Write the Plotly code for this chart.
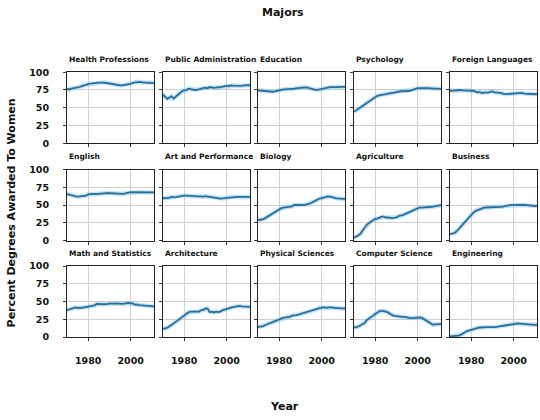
import plotly.graph_objects as go
from plotly.subplots import make_subplots

years = list(range(1970, 2012))

health_professions = [77.1, 75.5, 76.9, 77.4, 77.9, 78.9, 79.2, 80.5, 81.9, 82.3,
                      83.5, 84.1, 84.4, 84.6, 85.1, 85.3, 85.7, 85.5, 85.2, 84.6,
                      83.9, 83.5, 83.0, 82.4, 82.0, 81.5, 81.4, 81.9, 82.3, 83.5,
                      83.5, 85.1, 85.9, 86.6, 86.5, 86.0, 85.4, 85.2, 85.1, 85.3,
                      85.0, 84.8]
public_administration = [68.4, 65.5, 62.6, 64.3, 66.1, 63.0, 65.6, 69.3, 71.5, 73.3,
                         74.6, 74.7, 76.8, 76.1, 75.9, 75.0, 75.3, 76.4, 76.9, 77.6,
                         78.2, 77.4, 79.2, 78.5, 78.0, 78.4, 79.1, 78.6, 79.8, 80.8,
                         81.1, 80.3, 81.6, 81.1, 80.9, 81.5, 81.1, 80.8, 81.6, 81.7,
                         82.0, 81.7]
education = [74.5, 74.1, 73.6, 73.5, 73.3, 72.8, 72.2, 72.5, 73.2, 74.0,
             74.6, 75.0, 75.8, 75.9, 76.0, 75.9, 76.1, 76.8, 77.4, 78.0,
             78.1, 78.6, 78.8, 78.5, 77.4, 76.4, 75.7, 75.2, 75.1, 75.8,
             76.7, 77.5, 78.2, 78.6, 79.1, 79.1, 78.8, 78.7, 79.2, 79.4,
             79.6, 79.5]
psychology = [44.4, 46.2, 47.6, 50.4, 52.6, 54.5, 56.9, 59.0, 61.3, 63.3,
              65.1, 66.9, 67.5, 67.9, 68.2, 69.0, 69.0, 70.0, 70.8, 71.3,
              72.1, 72.8, 73.2, 73.2, 73.1, 73.0, 73.6, 74.6, 75.8, 76.5,
              77.5, 77.5, 77.7, 77.6, 77.8, 77.5, 77.4, 77.1, 77.2, 77.1,
              77.0, 76.7]
foreign_languages = [73.8, 73.9, 74.6, 74.9, 75.3, 75.0, 74.4, 74.3, 74.3, 74.2,
                     74.1, 73.9, 72.7, 71.8, 72.1, 70.8, 71.2, 71.1, 71.2, 72.3,
                     73.1, 71.7, 71.6, 71.2, 71.0, 70.0, 69.1, 69.3, 69.5, 70.0,
                     70.1, 70.9, 70.5, 70.6, 70.9, 69.9, 69.6, 69.2, 69.5, 69.3,
                     69.0, 69.0]
english = [65.6, 64.6, 63.7, 62.9, 62.4, 61.9, 62.1, 62.5, 63.2, 63.5,
           65.3, 65.8, 65.8, 65.6, 65.8, 65.8, 66.5, 66.9, 67.2, 67.3,
           67.1, 66.7, 66.4, 65.9, 65.7, 65.7, 65.8, 66.3, 66.6, 67.6,
           68.4, 68.4, 68.4, 68.8, 68.8, 68.6, 68.3, 67.9, 67.9, 67.9,
           67.9, 68.0]
art_and_performance = [59.7, 59.9, 60.4, 60.2, 61.9, 60.9, 61.3, 62.0, 62.5, 63.2,
                       63.4, 63.3, 63.1, 62.4, 62.1, 61.8, 62.1, 61.7, 61.7, 62.0,
                       62.6, 62.1, 61.2, 60.4, 59.9, 59.4, 59.6, 59.3, 59.5, 59.8,
                       60.7, 61.0, 61.4, 61.5, 61.7, 61.6, 61.5, 61.4, 60.8, 61.3,
                       61.2, 61.5]
biology = [29.1, 29.4, 29.8, 31.1, 33.0, 34.4, 36.1, 38.3, 40.1, 42.0,
           44.0, 45.8, 46.4, 47.0, 47.3, 48.2, 48.3, 50.2, 50.1, 50.6,
           50.7, 50.7, 50.5, 51.2, 51.9, 53.0, 54.6, 56.2, 58.2, 59.3,
           59.9, 60.7, 61.6, 62.2, 62.0, 61.5, 60.3, 59.4, 59.0, 58.7,
           59.0, 58.7]
agriculture = [4.2, 5.5, 7.4, 9.7, 14.1, 18.3, 22.3, 24.6, 27.1, 29.6,
               30.8, 31.1, 32.5, 33.8, 33.8, 32.6, 32.6, 31.8, 31.7, 32.0,
               32.7, 34.5, 35.0, 36.0, 37.3, 38.7, 40.2, 41.9, 42.9, 44.6,
               45.7, 46.9, 46.6, 47.2, 47.8, 47.4, 47.1, 47.6, 47.6, 48.7,
               48.7, 50.0]
business = [9.1, 9.5, 10.6, 12.8, 16.2, 19.7, 23.4, 27.2, 30.5, 33.6,
            36.8, 39.3, 41.7, 43.1, 44.6, 45.7, 46.5, 46.7, 46.7, 47.0,
            47.2, 47.2, 47.2, 47.3, 47.6, 48.0, 48.9, 49.1, 49.8, 50.5,
            50.4, 50.6, 50.0, 50.1, 50.2, 50.3, 49.8, 49.4, 49.0, 48.9,
            48.8, 48.9]
math_and_statistics = [38.0, 39.0, 40.2, 40.9, 41.8, 40.7, 41.5, 41.1, 41.6, 42.3,
                       42.8, 43.2, 44.4, 44.7, 46.7, 46.1, 46.5, 46.2, 46.2, 46.5,
                       47.4, 47.0, 47.2, 47.3, 46.9, 47.0, 46.8, 47.1, 47.9, 48.3,
                       47.6, 47.2, 45.7, 46.0, 45.0, 44.7, 44.1, 44.1, 43.3, 43.3,
                       43.1, 43.1]
architecture = [11.9, 12.0, 13.2, 14.8, 17.4, 19.1, 21.4, 23.7, 25.9, 28.1,
                29.7, 31.6, 34.8, 35.8, 35.6, 35.5, 35.9, 35.9, 38.0, 38.0,
                40.2, 40.1, 35.2, 35.8, 34.7, 35.9, 35.1, 35.7, 37.5, 38.8,
                40.0, 40.8, 41.6, 42.1, 42.8, 43.6, 44.0, 43.1, 42.7, 43.3,
                42.1, 42.4]
physical_sciences = [13.8, 14.9, 14.8, 16.5, 18.2, 19.1, 20.0, 21.3, 22.5, 23.7,
                     24.6, 25.7, 27.3, 27.6, 28.2, 28.4, 30.1, 31.0, 31.0, 31.6,
                     32.6, 32.6, 33.6, 34.8, 35.9, 37.0, 38.4, 39.2, 39.8, 40.8,
                     41.0, 42.2, 41.1, 41.7, 42.1, 41.6, 40.8, 40.7, 40.7, 40.7,
                     40.2, 40.1]
computer_science = [13.6, 13.6, 14.9, 16.4, 18.9, 19.8, 23.9, 25.7, 28.1, 30.2,
                    32.5, 34.8, 36.3, 37.1, 36.8, 35.7, 34.7, 32.4, 30.8, 29.9,
                    29.4, 28.7, 28.2, 28.5, 28.5, 27.5, 27.1, 26.8, 27.0, 28.1,
                    27.7, 27.6, 27.0, 25.1, 22.2, 20.6, 18.6, 17.6, 17.8, 18.1,
                    17.6, 18.2]
engineering = [0.8, 1.0, 1.2, 1.6, 2.2, 3.2, 4.5, 6.8, 8.4, 9.4,
               10.3, 11.6, 12.4, 13.1, 13.5, 13.5, 14.0, 14.0, 13.9, 14.3,
               14.1, 14.0, 14.5, 14.6, 15.4, 16.2, 16.7, 17.3, 17.9, 18.6,
               18.9, 19.0, 19.1, 19.0, 18.7, 18.6, 18.2, 17.3, 16.8, 16.8,
               17.2, 17.5]

majors = ["Health Professions", "Public Administration", "Education", "Psychology", "Foreign Languages",
          "English", "Art and Performance", "Biology", "Agriculture", "Business",
          "Math and Statistics", "Architecture", "Physical Sciences", "Computer Science", "Engineering"]
series = [health_professions, public_administration, education, psychology, foreign_languages,
          english, art_and_performance, biology, agriculture, business,
          math_and_statistics, architecture, physical_sciences, computer_science, engineering]

y_ticks = [0, 25, 50, 75, 100]
x_ticks = [1980, 2000]

W, H = 540, 420
col_left = [67, 163, 258, 354, 450]
panel_w = 87
row_top = [68, 168, 267]
panel_h = 73

FONT = "DejaVu Sans"
tick_font = dict(family=FONT, size=9.5, color="#111", weight="bold")
fig = make_subplots(rows=3, cols=5)

for i, (name, vals) in enumerate(zip(majors, series)):
    r, c = i // 5, i % 5
    fig.add_trace(go.Scatter(x=years, y=vals, mode="lines",
                             line=dict(color="rgba(135,200,235,0.5)", width=4.5),
                             hoverinfo="skip", showlegend=False), row=r + 1, col=c + 1)
    fig.add_trace(go.Scatter(x=years, y=vals, mode="lines", name=name,
                             line=dict(color="#2a6f9b", width=1.8),
                             showlegend=False), row=r + 1, col=c + 1)
    x0 = col_left[c] / W
    x1 = (col_left[c] + panel_w) / W
    y1 = 1 - row_top[r] / H
    y0 = 1 - (row_top[r] + panel_h) / H
    fig.update_xaxes(domain=[x0, x1], range=[1970, 2011], tickvals=x_ticks,
                     showticklabels=(r == 2), ticks="outside", ticklen=3,
                     ticklabelstandoff=12,
                     tickcolor="#333", showgrid=True, gridcolor="#cfcfcf", gridwidth=1,
                     showline=True, linecolor="#222", linewidth=1, mirror=True,
                     zeroline=False, tickfont=tick_font,
                     row=r + 1, col=c + 1)
    fig.update_yaxes(domain=[y0, y1], range=[0, 100], tickvals=y_ticks,
                     showticklabels=(c == 0), ticks="outside", ticklen=3,
                     ticklabelstandoff=12,
                     tickcolor="#333", showgrid=True, gridcolor="#cfcfcf", gridwidth=1,
                     showline=True, linecolor="#222", linewidth=1, mirror=True,
                     zeroline=False, tickfont=tick_font,
                     row=r + 1, col=c + 1)
    fig.add_annotation(text="<b>" + name + "</b>", xref="paper", yref="paper",
                       x=x0, y=y1 + 13 / H, xanchor="left", yanchor="middle",
                       showarrow=False, font=dict(family=FONT, size=7.5, color="#111"))

fig.add_annotation(text="<b>Majors</b>", xref="paper", yref="paper",
                   x=283 / W, y=1 - 7 / H, xanchor="center", yanchor="middle",
                   showarrow=False, font=dict(family=FONT, size=11, color="#111"))
fig.add_annotation(text="<b>Year</b>", xref="paper", yref="paper",
                   x=284 / W, y=1 - 411 / H, xanchor="center", yanchor="middle",
                   showarrow=False, font=dict(family=FONT, size=11, color="#111"))
fig.add_annotation(text="<b>Percent Degrees Awarded To Women</b>", xref="paper", yref="paper",
                   x=11 / W, y=1 - 213 / H, xanchor="center", yanchor="middle",
                   textangle=-90, showarrow=False,
                   font=dict(family=FONT, size=11, color="#111"))

fig.update_layout(width=W, height=H, margin=dict(l=0, r=0, t=0, b=0),
                  plot_bgcolor="white", paper_bgcolor="white")

fig.write_html("out.html", config={"displayModeBar": False},
               post_script="document.body.style.margin='0';document.body.style.overflow='hidden';")
